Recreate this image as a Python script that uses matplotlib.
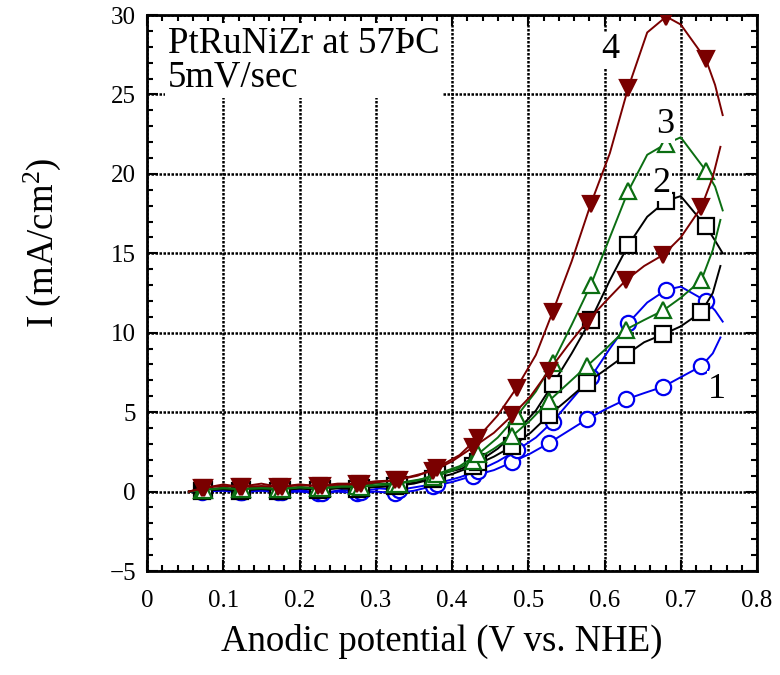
import matplotlib
matplotlib.use("Agg")
import matplotlib.pyplot as plt
from matplotlib.ticker import MultipleLocator, FuncFormatter

plt.rcParams["font.family"] = ["Liberation Serif", "DejaVu Serif"]
plt.rcParams["mathtext.fontset"] = "custom"
plt.rcParams["mathtext.rm"] = "Liberation Serif"
plt.rcParams["mathtext.default"] = "regular"

# potentials of the return sweep (upper branch) and forward sweep (lower branch)
x_up = [0.055, 0.075, 0.10, 0.125, 0.15, 0.177, 0.20, 0.229, 0.255, 0.28,
        0.305, 0.33, 0.355, 0.38, 0.41, 0.434, 0.46, 0.485, 0.51, 0.532,
        0.557, 0.582, 0.607, 0.631, 0.656, 0.681, 0.70, 0.733, 0.745, 0.755]
x_dn = [0.055, 0.072, 0.10, 0.122, 0.15, 0.172, 0.20, 0.224, 0.25, 0.275,
        0.30, 0.325, 0.35, 0.375, 0.40, 0.428, 0.455, 0.479, 0.503, 0.527,
        0.552, 0.577, 0.602, 0.628, 0.652, 0.677, 0.70, 0.727, 0.742, 0.752]

# cycle 1
c1_up = [0.0, 0.05, 0.1, 0.0, 0.1, 0.0, 0.1, -0.1, 0.1, 0.0,
         0.2, 0.1, 0.3, 0.5, 0.9, 1.3, 1.9, 2.6, 3.4, 4.4,
         5.8, 7.2, 9.0, 10.6, 11.9, 12.7, 12.9, 12.0, 11.4, 10.7]
c1_dn = [0.0, 0.0, 0.05, -0.05, 0.05, -0.05, 0.0, -0.1, 0.0, -0.1,
         0.0, -0.1, 0.05, 0.35, 0.6, 1.0, 1.35, 1.85, 2.4, 3.05,
         3.8, 4.55, 5.2, 5.8, 6.2, 6.6, 7.2, 7.9, 8.7, 9.7]
# cycle 2
c2_up = [0.0, 0.1, 0.15, 0.1, 0.15, 0.1, 0.2, 0.15, 0.25, 0.25,
         0.3, 0.4, 0.6, 1.1, 1.4, 1.85, 2.7, 3.8, 5.1, 6.75,
         8.7, 10.8, 13.3, 15.5, 17.3, 18.3, 18.6, 16.7, 15.8, 15.0]
c2_dn = [0.0, 0.05, 0.15, 0.05, 0.2, 0.05, 0.2, 0.1, 0.2, 0.15,
         0.3, 0.35, 0.5, 0.8, 1.1, 1.6, 2.2, 2.85, 3.7, 4.8,
         5.8, 6.85, 7.7, 8.6, 9.4, 9.9, 10.4, 11.3, 12.5, 14.2]
# cycle 3
c3_up = [0.0, 0.1, 0.2, 0.15, 0.2, 0.15, 0.25, 0.2, 0.3, 0.3,
         0.4, 0.5, 0.7, 1.1, 1.6, 2.35, 3.4, 4.75, 6.3, 8.1,
         10.5, 13.0, 16.0, 18.9, 21.2, 21.9, 22.3, 20.2, 19.2, 17.7]
c3_dn = [0.0, 0.1, 0.25, 0.15, 0.3, 0.15, 0.3, 0.2, 0.35, 0.35,
         0.5, 0.5, 0.7, 0.9, 1.3, 1.9, 2.7, 3.5, 4.5, 5.7,
         6.8, 7.9, 9.0, 10.2, 10.8, 11.4, 12.2, 13.3, 15.2, 17.1]
# cycle 4
c4_up = [0.0, 0.25, 0.35, 0.3, 0.35, 0.3, 0.4, 0.35, 0.45, 0.45,
         0.6, 0.75, 1.0, 1.5, 2.3, 3.4, 4.8, 6.55, 8.6, 11.3,
         14.5, 18.1, 21.3, 25.4, 28.9, 29.9, 29.4, 27.2, 25.6, 23.7]
c4_dn = [0.0, 0.2, 0.45, 0.3, 0.5, 0.3, 0.45, 0.35, 0.5, 0.5,
         0.65, 0.7, 1.0, 1.3, 1.9, 2.8, 3.7, 4.8, 6.0, 7.6,
         9.2, 10.7, 12.0, 13.3, 14.2, 14.9, 16.0, 17.9, 19.8, 21.7]

cycles = [
    ("1", c1_up, c1_dn, "#0000f0", "o", "white"),
    ("2", c2_up, c2_dn, "black", "s", "white"),
    ("3", c3_up, c3_dn, "#0b6e12", "^", "white"),
    ("4", c4_up, c4_dn, "#7a0000", "v", "#7a0000"),
]
label_pos = {"1": (0.748, 6.45), "2": (0.675, 19.4), "3": (0.679, 23.1), "4": (0.607, 27.8)}

fig = plt.figure(figsize=(7.8, 6.75), dpi=100)
ax = fig.add_axes([147 / 780, 104 / 675, 610 / 780, 556 / 675])

marks = slice(1, 28, 2)
for z, (name, yu, yd, col, mk, face) in enumerate(cycles):
    for xs, ys in ((x_dn, yd), (x_up, yu)):
        ax.plot(xs, ys, color=col, linewidth=1.4, marker=mk, markevery=marks,
                markersize=11, markerfacecolor=face, markeredgecolor=col,
                markeredgewidth=1.6, zorder=3 + z)
    lx, ly = label_pos[name]
    ax.text(lx, ly, name, fontsize=26, ha="center", va="center", zorder=10,
            bbox=dict(facecolor="white", edgecolor="none", pad=1))

ax.text(0.027, 29.3, "PtRuNiZr at 57ÞC\n5mV/sec", fontsize=26.5, ha="left", va="top",
        linespacing=0.98, zorder=10,
        bbox=dict(facecolor="white", edgecolor="none", pad=2))

ax.set_xlim(0, 0.8)
ax.set_ylim(-5, 30)
ax.xaxis.set_major_locator(MultipleLocator(0.1))
ax.xaxis.set_minor_locator(MultipleLocator(0.02))
ax.yaxis.set_major_locator(MultipleLocator(5))
ax.yaxis.set_minor_locator(MultipleLocator(1))
ax.xaxis.set_major_formatter(FuncFormatter(lambda v, p: f"{round(v, 2):g}"))
ax.tick_params(which="both", direction="in", top=True, right=True, width=1.5,
               labelsize=18)
ax.tick_params(axis="x", which="major", length=8, pad=14)
ax.tick_params(axis="y", which="major", length=8, pad=8)
ax.tick_params(which="minor", length=4)
for s in ax.spines.values():
    s.set_linewidth(2)

ax.grid(True, which="major", color="black", linestyle=(0, (1, 0.6)), linewidth=1.8)
ax.set_axisbelow(True)

ax.set_xlabel("Anodic potential (V vs. NHE)", fontsize=26.5)
ax.xaxis.set_label_coords(0.484, -0.095)
ax.set_ylabel(r"I (mA/cm$^2$)", fontsize=26.5)
ax.yaxis.set_label_coords(-0.138, 0.59)

fig.savefig("out.png", dpi=100)
